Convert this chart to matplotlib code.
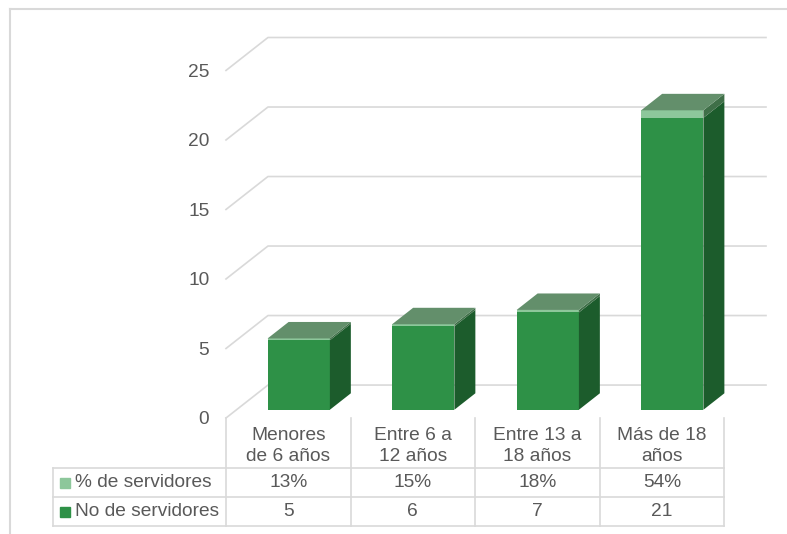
import matplotlib.pyplot as plt
import matplotlib.transforms as mtransforms
from matplotlib.lines import Line2D
from matplotlib.patches import Polygon
import numpy as np

plt.rcParams['font.family'] = ['Liberation Sans', 'DejaVu Sans']

categories = ['Menores\nde 6 años', 'Entre 6 a\n12 años', 'Entre 13 a\n18 años', 'Más de 18\naños']
num_servidores = [5, 6, 7, 21]
pct_servidores = [0.13, 0.15, 0.18, 0.54]
pct_labels = ['13%', '15%', '18%', '54%']
num_labels = ['5', '6', '7', '21']
series_names = ['% de servidores', 'No de servidores']
yticks = [0, 5, 10, 15, 20, 25]

# colours
TXT = '#595959'
GRID = '#D9D9D9'
DARK_FRONT, DARK_SIDE = '#2E9147', '#1C5C2C'
LIGHT_FRONT, LIGHT_SIDE, TOP = '#8DC79B', '#3F6F48', '#638F6B'

# 3d depth in data units
DX, DY = 0.337, 2.37
W = 0.5
FS = 13.8

W_PX, H_PX = 787, 534
fig = plt.figure(figsize=(W_PX / 100, H_PX / 100), dpi=100)
ax_l, ax_r, ax_b, ax_t = 226, 766, 418, 37.5
ax = fig.add_axes([ax_l / W_PX, (H_PX - ax_b) / H_PX, (ax_r - ax_l) / W_PX, (ax_b - ax_t) / H_PX])
ax.set_xlim(-0.5, 3.5 + DX)
ax.set_ylim(0, yticks[-1] + DY)
ax_h = ax_b - ax_t
px_x = (ax_r - ax_l) / (3.5 + DX + 0.5)

# gridlines (front edge + back wall)
for v in yticks:
    ax.plot([-0.5, -0.5 + DX, 3.5 + DX], [v, v + DY, v + DY], color=GRID, lw=1.2, zorder=1, clip_on=False)

x = np.arange(len(categories))
x0 = x - W / 2 + 0.25 * DX
base = 0.25 * DY
ax.bar(x0, num_servidores, width=W, bottom=base, align='edge', color=DARK_FRONT, zorder=3)
ax.bar(x0, pct_servidores, width=W, bottom=base + np.array(num_servidores), align='edge',
       color=LIGHT_FRONT, zorder=3)

hx, hy = DX / 2, DY / 2
for i in range(len(categories)):
    xl, xr = x0[i], x0[i] + W
    segs = [(base, base + num_servidores[i], DARK_SIDE),
            (base + num_servidores[i], base + num_servidores[i] + pct_servidores[i], LIGHT_SIDE)]
    for yb, yt, c in segs:
        ax.add_patch(Polygon([(xr, yb), (xr + hx, yb + hy), (xr + hx, yt + hy), (xr, yt)],
                             closed=True, color=c, lw=0, zorder=3))
    top = segs[-1][1]
    ax.add_patch(Polygon([(xl, top), (xr, top), (xr + hx, top + hy), (xl + hx, top + hy)],
                         closed=True, color=TOP, lw=0, zorder=3))

ax.set_yticks(yticks)
ax.set_xticks([])
ax.tick_params(axis='y', length=0, pad=12, labelsize=FS, labelcolor=TXT)
for s in ax.spines.values():
    s.set_visible(False)

# data table
trans = mtransforms.blended_transform_factory(ax.transData, ax.transAxes)
rows = [0, -50 / ax_h, -79 / ax_h, -108 / ax_h]
x_left = -0.5 - (ax_l - 53) / px_x
bounds = np.arange(len(categories) + 1) - 0.5
for b in bounds:
    ax.add_line(Line2D([b, b], [rows[0], rows[-1]], color=GRID, lw=1.2, transform=trans, clip_on=False))
ax.add_line(Line2D([x_left, x_left], [rows[1], rows[-1]], color=GRID, lw=1.2, transform=trans, clip_on=False))
for r in rows[1:]:
    ax.add_line(Line2D([x_left, bounds[-1]], [r, r], color=GRID, lw=1.2, transform=trans, clip_on=False))

for i, cat in enumerate(categories):
    ax.text(i, (rows[0] + rows[1]) / 2 - 3 / ax_h, cat, transform=trans, ha='center', va='center',
            fontsize=FS, color=TXT, linespacing=1.35)

row_vals = [pct_labels, num_labels]
row_colors = [LIGHT_FRONT, DARK_FRONT]
for k in range(2):
    ym = (rows[k + 1] + rows[k + 2]) / 2
    for i, t in enumerate(row_vals[k]):
        ax.text(i, ym, t, transform=trans, ha='center', va='center', fontsize=FS, color=TXT)
    ax.plot([-0.5 - (ax_l - 65) / px_x], [ym], marker='s', ms=7, color=row_colors[k], ls='none',
            transform=trans, clip_on=False)
    ax.text(-0.5 - (ax_l - 75) / px_x, ym, series_names[k], transform=trans, ha='left', va='center',
            fontsize=FS, color=TXT)

# chart frame
fig.add_artist(Line2D([10 / W_PX, 10 / W_PX], [0, 1 - 9 / H_PX], color=GRID, lw=1.5))
fig.add_artist(Line2D([10 / W_PX, 1], [1 - 9 / H_PX, 1 - 9 / H_PX], color=GRID, lw=1.5))

fig.savefig('out.png', dpi=100)
